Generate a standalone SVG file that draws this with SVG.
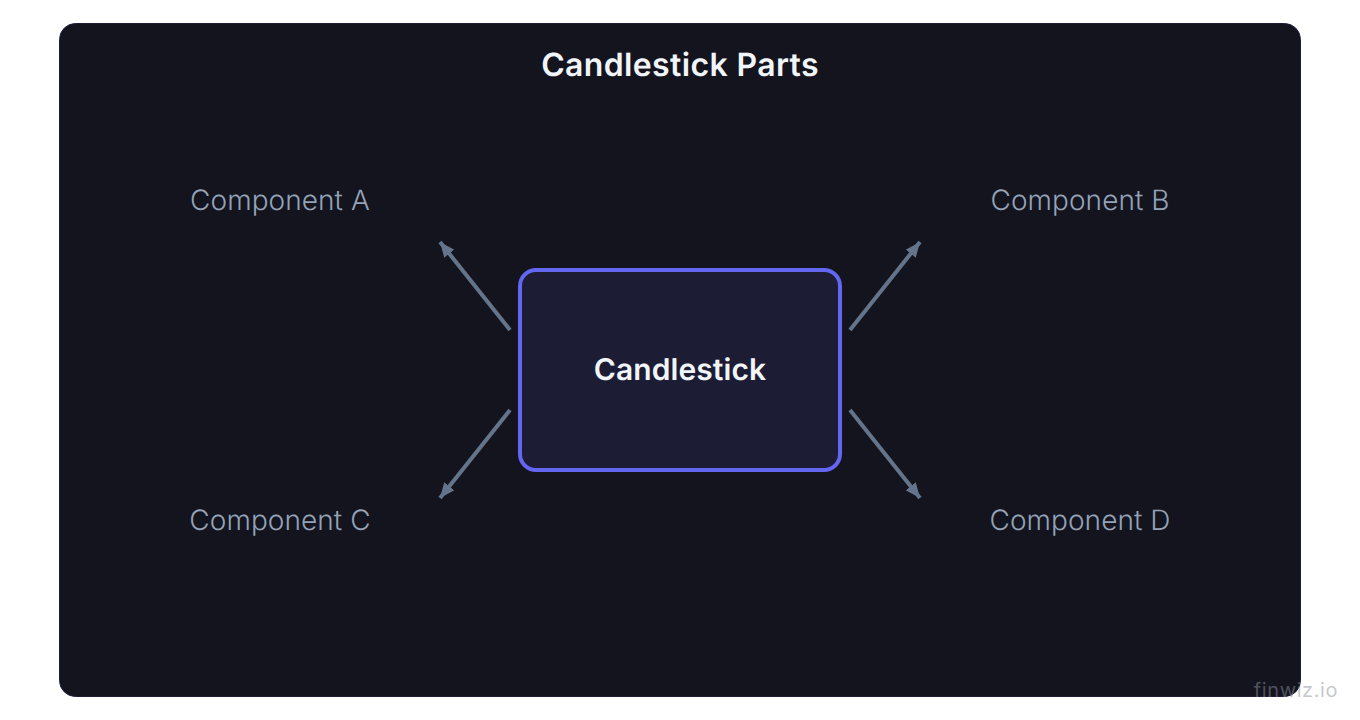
<svg xmlns="http://www.w3.org/2000/svg" width="1360" height="720" viewBox="0 0 1360 720">
<style>
text{font-family:Inter,"Liberation Sans",sans-serif;text-anchor:middle;text-rendering:geometricPrecision}
.lbl{font-size:28px;fill:#94a3b8;font-weight:350;letter-spacing:.06px}
.conn{stroke:#64748b;stroke-width:4;fill:none;marker-end:url(#arrow)}
</style>
<defs>
<marker id="arrow" markerUnits="userSpaceOnUse" viewBox="0 0 16 16" refX="15" refY="8" markerWidth="16" markerHeight="16" orient="auto"><path d="M0 1.500L15 8L0 14.500Z" fill="#64748b"/></marker>
</defs>
<rect width="1360" height="720" fill="#ffffff"/>
<g id="panel"><rect x="59.500" y="23.500" width="1241" height="673" rx="16" fill="#13141e" stroke="#1e1e38" stroke-width="1"/></g>
<text id="title" x="680" y="76" fill="#f1f5f9" font-weight="600" style="font-size:32px;letter-spacing:.36px">Candlestick Parts</text>
<g id="connectors">
<line class="conn" x1="510" y1="330" x2="440" y2="242"/>
<line class="conn" x1="850" y1="330" x2="920" y2="242"/>
<line class="conn" x1="510" y1="410" x2="440" y2="498"/>
<line class="conn" x1="850" y1="410" x2="920" y2="498"/>
</g>
<g id="center"><rect x="520" y="270" width="320" height="200" rx="16" fill="#1c1c34" stroke="#6366f1" stroke-width="4"/>
<text x="680" y="380" fill="#f1f5f9" font-weight="600" style="font-size:30px;letter-spacing:.08px">Candlestick</text></g>
<g id="a"><text class="lbl" x="280" y="210">Component A</text></g>
<g id="b"><text class="lbl" x="1080" y="210">Component B</text></g>
<g id="c"><text class="lbl" x="280" y="530">Component C</text></g>
<g id="d"><text class="lbl" x="1080" y="530">Component D</text></g>
<text id="wm" x="1296" y="697" fill="#8b8f9c" fill-opacity=".5" style="font-size:20px;letter-spacing:.6px">finwiz.io</text>
</svg>
